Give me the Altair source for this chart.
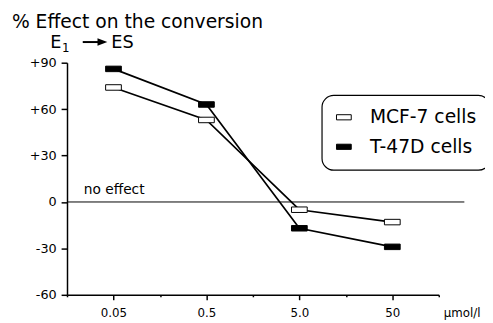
import json
import altair as alt
import pandas as pd

# ---- data ----
conc_labels = ["0.05", "0.5", "5.0", "50"]
conc_pos = [0, 1, 2, 3]
series_names = ["MCF-7 cells", "T-47D cells"]
mcf7_values = [74, 53, -5, -13]
t47d_values = [86, 63, -17, -29]

y_tick_values = [-60, -45, -30, -15, 0, 15, 30, 45, 60, 75, 90]
x_tick_values = [-0.5, 0, 0.5, 1, 1.5, 2, 2.5, 3, 3.5]

title_text = ["% Effect on the conversion"]
unit_text = ["µmol/l"]
zero_text = ["no effect"]

rows = []
for name, vals in zip(series_names, [mcf7_values, t47d_values]):
    for p, lab, v in zip(conc_pos, conc_labels, vals):
        rows.append({"series": name, "pos": p, "conc": lab, "value": v})
df = pd.DataFrame(rows)

FONT = "DejaVu Sans"
RECT = "M-1,-0.35H1V0.35H-1Z"

x_enc = alt.X(
    "pos:Q",
    scale=alt.Scale(domain=[-0.5, 3.5], nice=False, zero=False),
    axis=alt.Axis(
        title=None,
        values=x_tick_values,
        labelExpr="datum.value % 1 === 0 ? " + json.dumps(conc_labels) + "[datum.value] : ''",
        tickSize={"condition": {"test": "datum.value % 1 === 0", "value": 5}, "value": 2},
        labelPadding=8,
        labelFont=FONT,
        labelFontSize=12,
        labelColor="black",
        domainColor="black",
        tickColor="black",
        domainWidth=1.5,
        tickWidth=1.5,
        grid=False,
        labelFlush=False,
        labelOverlap=False,
    ),
)
y_enc = alt.Y(
    "value:Q",
    scale=alt.Scale(domain=[-60, 90], nice=False, zero=False),
    axis=alt.Axis(
        title=None,
        values=y_tick_values,
        labelExpr="datum.value % 30 === 0 ? (datum.value > 0 ? '+' + datum.value : '' + datum.value) : ''",
        tickSize={"condition": {"test": "datum.value % 30 === 0", "value": 6}, "value": 3},
        labelPadding=5,
        labelFont=FONT,
        labelFontSize=13,
        labelColor="black",
        domainColor="black",
        tickColor="black",
        domainWidth=1.5,
        tickWidth=1.5,
        grid=False,
        labelFlush=False,
        labelOverlap=False,
    ),
)

base = alt.Chart(df)

zero_rule = alt.Chart(pd.DataFrame({"v": [0]})).mark_rule(color="black", strokeWidth=1).encode(
    y="v:Q", x=alt.value(0), x2=alt.value(404)
)
zero_label = alt.Chart(pd.DataFrame({"v": [0], "t": zero_text})).mark_text(
    font=FONT, fontSize=14, align="left", baseline="alphabetic", dy=-8, color="black"
).encode(y="v:Q", x=alt.value(17), text="t:N")

lines = base.mark_line(color="black", strokeWidth=1.7).encode(x=x_enc, y=y_enc, detail="series:N")
points = base.mark_point(
    shape=RECT, size=256, filled=True, stroke="black", strokeWidth=1, opacity=1
).encode(
    x="pos:Q",
    y="value:Q",
    fill=alt.Fill(
        "series:N",
        scale=alt.Scale(domain=series_names, range=["white", "black"]),
        legend=alt.Legend(
            title=None,
            orient="none",
            legendX=259,
            legendY=33,
            strokeColor="black",
            cornerRadius=12,
            padding=13,
            fillColor="white",
            symbolType=RECT,
            symbolSize=225,
            symbolStrokeColor="black",
            symbolStrokeWidth=1,
            labelFont=FONT,
            labelFontSize=19,
            labelColor="black",
            labelOffset=17,
            rowPadding=10,
        ),
    ),
)

title = alt.Chart(pd.DataFrame({"t": title_text})).mark_text(
    font=FONT, fontSize=19, align="left", baseline="alphabetic", color="black"
).encode(x=alt.value(-56), y=alt.value(-35), text="t:N")

e_main = alt.Chart(pd.DataFrame({"t": ["E"]})).mark_text(
    font=FONT, fontSize=18, align="left", baseline="alphabetic", color="black"
).encode(x=alt.value(-17), y=alt.value(-15), text="t:N")
e_sub = alt.Chart(pd.DataFrame({"t": ["1"]})).mark_text(
    font=FONT, fontSize=12, align="left", baseline="alphabetic", color="black"
).encode(x=alt.value(-5), y=alt.value(-11), text="t:N")
es_text = alt.Chart(pd.DataFrame({"t": ["ES"]})).mark_text(
    font=FONT, fontSize=18, align="left", baseline="alphabetic", color="black"
).encode(x=alt.value(45), y=alt.value(-15), text="t:N")
arrow_shaft = alt.Chart(pd.DataFrame({"a": [0]})).mark_rule(color="black", strokeWidth=2).encode(
    x=alt.value(16), x2=alt.value(33), y=alt.value(-21)
)
arrow_head = alt.Chart(pd.DataFrame({"a": [0]})).mark_point(
    shape="M-1,-0.75L1,0L-1,0.75Z", size=100, filled=True, color="black", opacity=1
).encode(x=alt.value(36), y=alt.value(-21))

unit = alt.Chart(pd.DataFrame({"t": unit_text})).mark_text(
    font=FONT, fontSize=12, align="left", baseline="top", color="black"
).encode(x=alt.value(383), y=alt.value(250), text="t:N")

chart = alt.layer(
    zero_rule, lines, points, zero_label, title, e_main, e_sub, es_text, arrow_shaft, arrow_head, unit
).properties(
    width=378,
    height=236,
    autosize=alt.AutoSizeParams(type="none"),
    padding={"left": 60, "top": 53, "right": 47, "bottom": 24},
    background="white",
).configure_view(stroke=None).configure_legend(strokeWidth=1.2)

chart.save("out.html", embed_options={"renderer": "svg", "actions": False})
